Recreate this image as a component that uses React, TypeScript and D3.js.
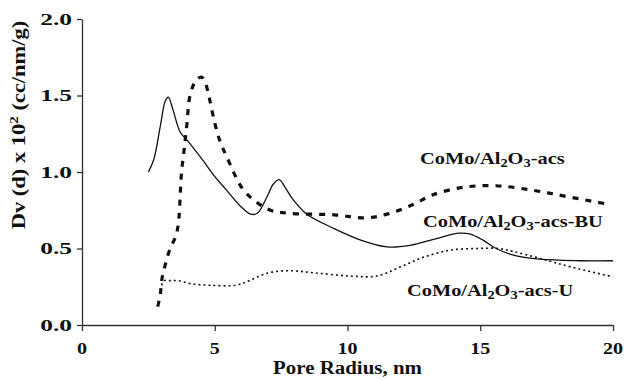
import React, { useRef, useEffect } from "react";
import * as d3 from "d3";

// tick values
const xTicks = [0, 5, 10, 15, 20];
const yTicks = [0, 0.5, 1.0, 1.5, 2.0];

// CoMo/Al2O3-acs (heavy dashed)
const acs = [
  [2.85, 0.12], [2.95, 0.2], [3.0, 0.29], [3.13, 0.39], [3.3, 0.49], [3.55, 0.59],
  [3.65, 0.7], [3.7, 0.85], [3.75, 1.0], [3.85, 1.15], [3.95, 1.31], [4.07, 1.5],
  [4.3, 1.6], [4.5, 1.62], [4.65, 1.58], [4.8, 1.48], [5.0, 1.32], [5.2, 1.2],
  [5.45, 1.1], [6.05, 0.89], [6.6, 0.8], [7.1, 0.75], [7.8, 0.73], [9.5, 0.72],
  [10.7, 0.7], [11.6, 0.73], [12.5, 0.79], [13.2, 0.85], [14.35, 0.9], [15.6, 0.91],
  [17.0, 0.88], [18.25, 0.84], [19.8, 0.79],
];

// CoMo/Al2O3-acs-BU (solid)
const acsBU = [
  [2.5, 1.0], [2.7, 1.08], [2.95, 1.3], [3.13, 1.46], [3.25, 1.49], [3.42, 1.41],
  [3.7, 1.26], [3.95, 1.21], [4.45, 1.1], [5.05, 0.96], [5.45, 0.88], [5.95, 0.78],
  [6.35, 0.725], [6.6, 0.73], [7.0, 0.85], [7.2, 0.92], [7.43, 0.95], [7.65, 0.9],
  [7.95, 0.82], [8.5, 0.72], [9.5, 0.63], [10.5, 0.555], [11.5, 0.51], [12.35, 0.52],
  [13.35, 0.565], [14.2, 0.6], [14.6, 0.595], [15.1, 0.555], [15.6, 0.5],
  [16.25, 0.457], [17.25, 0.43], [18.75, 0.42], [20, 0.42],
];

// CoMo/Al2O3-acs-U (fine dotted)
const acsU = [
  [3.0, 0.26], [3.1, 0.29], [3.3, 0.29], [3.6, 0.29], [4.1, 0.27], [4.8, 0.26],
  [5.8, 0.26], [6.3, 0.29], [7.0, 0.34], [7.8, 0.355], [8.8, 0.34], [10.1, 0.32],
  [11.1, 0.32], [12.0, 0.38], [12.9, 0.445], [13.9, 0.49], [14.9, 0.5], [15.7, 0.5],
  [16.25, 0.48], [17.25, 0.435], [18.4, 0.38], [20, 0.315],
];

// label suffixes for CoMo/Al2O3-...
const seriesSuffix = ["-acs", "-acs-BU", "-acs-U"];

const FONT = "'Liberation Serif', 'Times New Roman', serif";

const PoreChart = () => {
  const svgRef = useRef<SVGSVGElement>(null);

  useEffect(() => {
    const width = 624;
    const height = 380;
    const margin = { top: 19, right: 11, bottom: 55, left: 82 };

    const svg = d3
      .select(svgRef.current)
      .attr("width", width)
      .attr("height", height)
      .html("");

    const x = d3.scaleLinear().domain([0, 20]).range([margin.left, width - margin.right]);
    const y = d3.scaleLinear().domain([0, 2]).range([height - margin.bottom, margin.top]);

    // axes
    const xAxis = svg
      .append("g")
      .attr("transform", `translate(0,${y(0)})`)
      .call(d3.axisBottom(x).tickValues(xTicks).tickSize(6).tickSizeOuter(0).tickFormat(() => ""));
    const yAxis = svg
      .append("g")
      .attr("transform", `translate(${x(0)},0)`)
      .call(d3.axisLeft(y).tickValues(yTicks).tickSize(5).tickSizeOuter(0).tickFormat(() => ""));
    [xAxis, yAxis].forEach((g) => {
      g.selectAll("path, line").attr("stroke", "#333").attr("stroke-width", 1.3);
    });

    // tick labels
    svg
      .selectAll(".xt")
      .data(xTicks)
      .enter()
      .append("text")
      .attr("transform", (d) => `translate(${x(d)},354) scale(1.18,1)`)
      .attr("text-anchor", "middle")
      .attr("font-family", FONT)
      .attr("font-weight", "bold")
      .attr("font-size", 17)
      .attr("fill", "#111")
      .text((d) => d);

    svg
      .selectAll(".yt")
      .data(yTicks)
      .enter()
      .append("text")
      .attr("transform", (d) => `translate(72,${y(d) + 5.8}) scale(1.5,1)`)
      .attr("text-anchor", "end")
      .attr("font-family", FONT)
      .attr("font-weight", "bold")
      .attr("font-size", 17)
      .attr("fill", "#111")
      .text((d) => d3.format(".1f")(d));

    // axis titles
    svg
      .append("text")
      .attr("transform", `translate(${(x(0) + x(20)) / 2},374) scale(1.1,1)`)
      .attr("text-anchor", "middle")
      .attr("font-family", FONT)
      .attr("font-weight", "bold")
      .attr("font-size", 19)
      .attr("fill", "#111")
      .text("Pore Radius, nm");

    const yt = svg
      .append("text")
      .attr("transform", "translate(25,125) rotate(-90) scale(1.25,1)")
      .attr("text-anchor", "middle")
      .attr("font-family", FONT)
      .attr("font-weight", "bold")
      .attr("font-size", 18)
      .attr("fill", "#111");
    yt.append("tspan").text("Dv (d) x 10");
    yt.append("tspan").attr("font-size", 12).attr("dy", -7).text("2");
    yt.append("tspan").attr("dy", 7).text(" (cc/nm/g)");

    // curves
    const line = d3
      .line<number[]>()
      .x((d) => x(d[0]))
      .y((d) => y(d[1]))
      .curve(d3.curveCatmullRom.alpha(0.5));

    svg
      .append("path")
      .attr("d", line(acsU))
      .attr("fill", "none")
      .attr("stroke", "#111")
      .attr("stroke-width", 1.6)
      .attr("stroke-dasharray", "2,3");

    svg
      .append("path")
      .attr("d", line(acsBU))
      .attr("fill", "none")
      .attr("stroke", "#111")
      .attr("stroke-width", 1.3);

    svg
      .append("path")
      .attr("d", line(acs))
      .attr("fill", "none")
      .attr("stroke", "#111")
      .attr("stroke-width", 3.2)
      .attr("stroke-dasharray", "6,7");

    // series labels
    const labelPos = [
      [420, 164],
      [423, 227],
      [407, 296],
    ];
    seriesSuffix.forEach((s, i) => {
      const t = svg
        .append("text")
        .attr("transform", `translate(${labelPos[i][0]},${labelPos[i][1]}) scale(1.2,1)`)
        .attr("font-family", FONT)
        .attr("font-weight", "bold")
        .attr("font-size", 17)
        .attr("fill", "#111");
      t.append("tspan").text("CoMo/Al");
      t.append("tspan").attr("font-size", 12).attr("dy", 3).text("2");
      t.append("tspan").attr("dy", -3).text("O");
      t.append("tspan").attr("font-size", 12).attr("dy", 3).text("3");
      t.append("tspan").attr("dy", -3).text(s);
    });
  }, []);

  return (
    <svg
      ref={svgRef}
      style={{ position: "absolute", left: 0, top: 0, background: "#fff" }}
    />
  );
};

export default function App() {
  return <PoreChart />;
}
